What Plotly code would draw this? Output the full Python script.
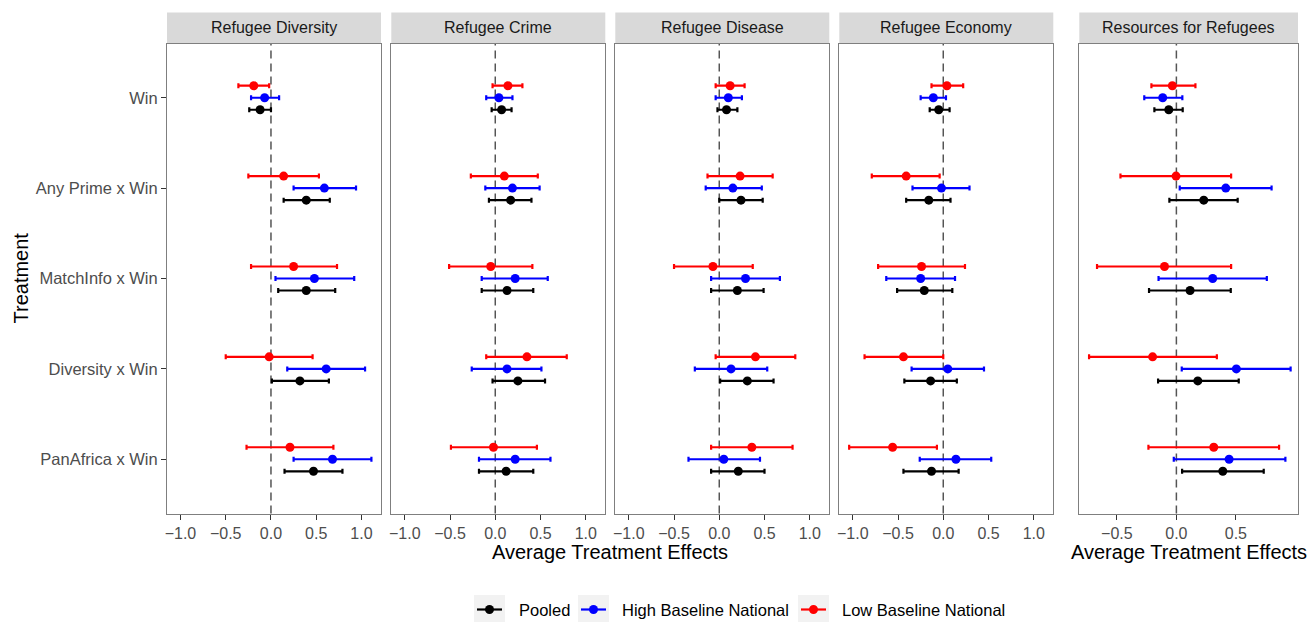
import plotly.graph_objects as go

# ---------------- data ----------------
treatments = ["Win", "Any Prime x Win", "MatchInfo x Win", "Diversity x Win", "PanAfrica x Win"]
panels = ["Refugee Diversity", "Refugee Crime", "Refugee Disease", "Refugee Economy", "Resources for Refugees"]
series_names = ["Pooled", "High Baseline National", "Low Baseline National"]
series_colors = ["#000000", "#0000FF", "#FF0000"]
x_ticks_shared = [-1.0, -0.5, 0.0, 0.5, 1.0]
x_ticks_resources = [-0.5, 0.0, 0.5]

# Refugee Diversity
div_pooled_est = [-0.12, 0.39, 0.39, 0.32, 0.47]
div_pooled_lo = [-0.24, 0.14, 0.08, 0.01, 0.15]
div_pooled_hi = [0.00, 0.65, 0.71, 0.64, 0.79]
div_high_est = [-0.07, 0.59, 0.48, 0.61, 0.68]
div_high_lo = [-0.22, 0.25, 0.05, 0.18, 0.25]
div_high_hi = [0.09, 0.94, 0.92, 1.04, 1.11]
div_low_est = [-0.19, 0.14, 0.25, -0.02, 0.21]
div_low_lo = [-0.36, -0.25, -0.22, -0.50, -0.27]
div_low_hi = [-0.02, 0.53, 0.73, 0.46, 0.69]

# Refugee Crime
cri_pooled_est = [0.07, 0.17, 0.13, 0.25, 0.12]
cri_pooled_lo = [-0.04, -0.07, -0.15, -0.03, -0.18]
cri_pooled_hi = [0.18, 0.40, 0.42, 0.55, 0.42]
cri_high_est = [0.04, 0.19, 0.22, 0.13, 0.22]
cri_high_lo = [-0.10, -0.11, -0.15, -0.26, -0.18]
cri_high_hi = [0.19, 0.49, 0.58, 0.51, 0.61]
cri_low_est = [0.14, 0.10, -0.05, 0.35, -0.02]
cri_low_lo = [-0.03, -0.27, -0.51, -0.10, -0.49]
cri_low_hi = [0.30, 0.47, 0.41, 0.79, 0.46]

# Refugee Disease
dis_pooled_est = [0.08, 0.24, 0.20, 0.31, 0.21]
dis_pooled_lo = [-0.02, 0.00, -0.09, 0.01, -0.09]
dis_pooled_hi = [0.20, 0.48, 0.49, 0.60, 0.50]
dis_high_est = [0.10, 0.15, 0.29, 0.13, 0.05]
dis_high_lo = [-0.04, -0.15, -0.09, -0.27, -0.34]
dis_high_hi = [0.25, 0.47, 0.67, 0.53, 0.45]
dis_low_est = [0.12, 0.23, -0.07, 0.40, 0.36]
dis_low_lo = [-0.04, -0.13, -0.50, -0.04, -0.09]
dis_low_hi = [0.28, 0.59, 0.37, 0.84, 0.81]

# Refugee Economy
eco_pooled_est = [-0.05, -0.16, -0.21, -0.14, -0.13]
eco_pooled_lo = [-0.15, -0.41, -0.51, -0.43, -0.44]
eco_pooled_hi = [0.07, 0.08, 0.10, 0.15, 0.17]
eco_high_est = [-0.11, -0.02, -0.25, 0.05, 0.14]
eco_high_lo = [-0.25, -0.34, -0.63, -0.35, -0.26]
eco_high_hi = [0.03, 0.29, 0.13, 0.45, 0.53]
eco_low_est = [0.04, -0.41, -0.24, -0.44, -0.56]
eco_low_lo = [-0.13, -0.79, -0.72, -0.87, -1.04]
eco_low_hi = [0.22, -0.04, 0.24, 0.00, -0.07]

# Resources for Refugees
res_pooled_est = [-0.064, 0.23, 0.115, 0.18, 0.39]
res_pooled_lo = [-0.185, -0.059, -0.23, -0.154, 0.048]
res_pooled_hi = [0.053, 0.515, 0.457, 0.524, 0.734]
res_high_est = [-0.115, 0.415, 0.305, 0.504, 0.443]
res_high_lo = [-0.27, 0.028, -0.15, 0.045, -0.022]
res_high_hi = [0.05, 0.80, 0.76, 0.96, 0.916]
res_low_est = [-0.034, -0.003, -0.10, -0.20, 0.314]
res_low_lo = [-0.21, -0.47, -0.667, -0.734, -0.235]
res_low_hi = [0.16, 0.46, 0.46, 0.34, 0.863]

panel_data = [
    [(div_pooled_est, div_pooled_lo, div_pooled_hi), (div_high_est, div_high_lo, div_high_hi), (div_low_est, div_low_lo, div_low_hi)],
    [(cri_pooled_est, cri_pooled_lo, cri_pooled_hi), (cri_high_est, cri_high_lo, cri_high_hi), (cri_low_est, cri_low_lo, cri_low_hi)],
    [(dis_pooled_est, dis_pooled_lo, dis_pooled_hi), (dis_high_est, dis_high_lo, dis_high_hi), (dis_low_est, dis_low_lo, dis_low_hi)],
    [(eco_pooled_est, eco_pooled_lo, eco_pooled_hi), (eco_high_est, eco_high_lo, eco_high_hi), (eco_low_est, eco_low_lo, eco_low_hi)],
    [(res_pooled_est, res_pooled_lo, res_pooled_hi), (res_high_est, res_high_lo, res_high_hi), (res_low_est, res_low_lo, res_low_hi)],
]

# ---------------- layout constants ----------------
W, H = 1309, 622
FONT = "Liberation Sans, Arial, sans-serif"
PANEL_PX = [(167, 381), (391.3, 605.3), (615.3, 829.3), (839.3, 1053.3), (1079.3, 1298)]
TOP_PX, BOT_PX, STRIP_TOP_PX = 43.5, 513.5, 12.5
dodge = [0.133, 0.0, -0.133]
X_RANGE_SHARED = [-1.149, 1.216]
X_RANGE_RES = [-0.816, 1.022]
# legend layout (pixel positions of key boxes and labels)
LEG_BOX_X = [474, 578, 798]
LEG_TEXT_X = [517, 620, 840]
LEG_BOX_W, LEG_Y0, LEG_Y1 = 31, 595, 624

def px_x(v):
    return v / W

def px_y(v):
    return 1 - v / H

fig = go.Figure()

for p in range(5):
    xa = "x" if p == 0 else f"x{p + 1}"
    ya = "y" if p == 0 else f"y{p + 1}"
    for s in range(3):
        est, lo, hi = panel_data[p][s]
        fig.add_trace(go.Scatter(
            x=est,
            y=[i + dodge[s] for i in range(len(treatments))],
            mode="markers",
            marker=dict(color=series_colors[s], size=9),
            error_x=dict(type="data", symmetric=False,
                         array=[h - e for h, e in zip(hi, est)],
                         arrayminus=[e - l for e, l in zip(est, lo)],
                         color=series_colors[s], thickness=2.2, width=2.5),
            xaxis=xa, yaxis=ya, showlegend=False,
            name=series_names[s],
        ))

layout = dict(
    width=W, height=H,
    margin=dict(l=0, r=0, t=0, b=0),
    paper_bgcolor="white", plot_bgcolor="white",
    font=dict(family=FONT, size=16, color="#000000"),
    showlegend=False,
)

shapes = []
annotations = []
for p in range(5):
    sfx = "" if p == 0 else str(p + 1)
    x0, x1 = PANEL_PX[p]
    ticks = x_ticks_resources if p == 4 else x_ticks_shared
    layout[f"xaxis{sfx}"] = dict(
        domain=[px_x(x0), px_x(x1)], anchor=f"y{sfx}",
        range=X_RANGE_RES if p == 4 else X_RANGE_SHARED,
        tickvals=ticks, ticktext=[f"{t:.1f}".replace("-", "\u2212") for t in ticks],
        ticks="outside", ticklen=5, tickwidth=1, tickcolor="#333333",
        tickfont=dict(size=16, color="#4D4D4D"),
        showgrid=False, zeroline=False,
        showline=True, mirror=True, linecolor="#7F7F7F", linewidth=1,
        automargin=False, fixedrange=True,
    )
    layout[f"yaxis{sfx}"] = dict(
        domain=[px_y(BOT_PX), px_y(TOP_PX)], anchor=f"x{sfx}",
        range=[len(treatments) - 0.4, -0.6],
        tickvals=list(range(len(treatments))), ticktext=treatments,
        showticklabels=(p == 0), ticks="outside" if p == 0 else "",
        ticklen=5, tickwidth=1, tickcolor="#333333",
        tickfont=dict(size=16.5, color="#4D4D4D"),
        showgrid=False, zeroline=False,
        showline=True, mirror=True, linecolor="#7F7F7F", linewidth=1,
        automargin=False, fixedrange=True,
    )
    # zero reference line
    shapes.append(dict(type="line", xref=f"x{sfx}", yref=f"y{sfx} domain",
                       x0=0, x1=0, y0=0, y1=1,
                       line=dict(color="#555555", width=1.5, dash="8px,5px"),
                       layer="below"))
    # strip
    shapes.append(dict(type="rect", xref="paper", yref="paper",
                       x0=px_x(x0), x1=px_x(x1), y0=px_y(TOP_PX), y1=px_y(STRIP_TOP_PX),
                       fillcolor="#D9D9D9", line=dict(width=0), layer="below"))
    annotations.append(dict(text=panels[p], xref="paper", yref="paper",
                            x=px_x((x0 + x1) / 2), y=px_y((TOP_PX + STRIP_TOP_PX) / 2),
                            showarrow=False, xanchor="center", yanchor="middle",
                            font=dict(size=16, color="#1A1A1A")))

annotations.append(dict(text="Average Treatment Effects", xref="paper", yref="paper",
                        x=px_x((PANEL_PX[0][0] + PANEL_PX[3][1]) / 2), y=px_y(552),
                        showarrow=False, xanchor="center", yanchor="middle",
                        font=dict(size=20, color="#000000")))
annotations.append(dict(text="Average Treatment Effects", xref="paper", yref="paper",
                        x=px_x((PANEL_PX[4][0] + PANEL_PX[4][1]) / 2), y=px_y(552),
                        showarrow=False, xanchor="center", yanchor="middle",
                        font=dict(size=20, color="#000000")))
annotations.append(dict(text="Treatment", xref="paper", yref="paper",
                        x=px_x(20), y=px_y((TOP_PX + BOT_PX) / 2), textangle=-90,
                        showarrow=False, xanchor="center", yanchor="middle",
                        font=dict(size=20, color="#000000")))

# legend (ggplot-style keys with grey background)
leg_cy = 609.5
for s in range(3):
    bx = LEG_BOX_X[s]
    cx = bx + LEG_BOX_W / 2
    shapes.append(dict(type="rect", xref="paper", yref="paper",
                       x0=px_x(bx), x1=px_x(bx + LEG_BOX_W), y0=px_y(LEG_Y1), y1=px_y(LEG_Y0),
                       fillcolor="#F2F2F2", line=dict(width=0)))
    shapes.append(dict(type="line", xref="paper", yref="paper",
                       x0=px_x(bx + 3), x1=px_x(bx + LEG_BOX_W - 3), y0=px_y(leg_cy), y1=px_y(leg_cy),
                       line=dict(color=series_colors[s], width=2.2)))
    shapes.append(dict(type="circle", xref="paper", yref="paper",
                       x0=px_x(cx - 4.5), x1=px_x(cx + 4.5), y0=px_y(leg_cy + 4.5), y1=px_y(leg_cy - 4.5),
                       fillcolor=series_colors[s], line=dict(width=0)))
    annotations.append(dict(text=series_names[s], xref="paper", yref="paper",
                            x=px_x(LEG_TEXT_X[s]), y=px_y(leg_cy),
                            showarrow=False, xanchor="left", yanchor="middle",
                            font=dict(size=16.5, color="#000000")))

layout["shapes"] = shapes
layout["annotations"] = annotations
fig.update_layout(**layout)

fig.write_html("out.html")
